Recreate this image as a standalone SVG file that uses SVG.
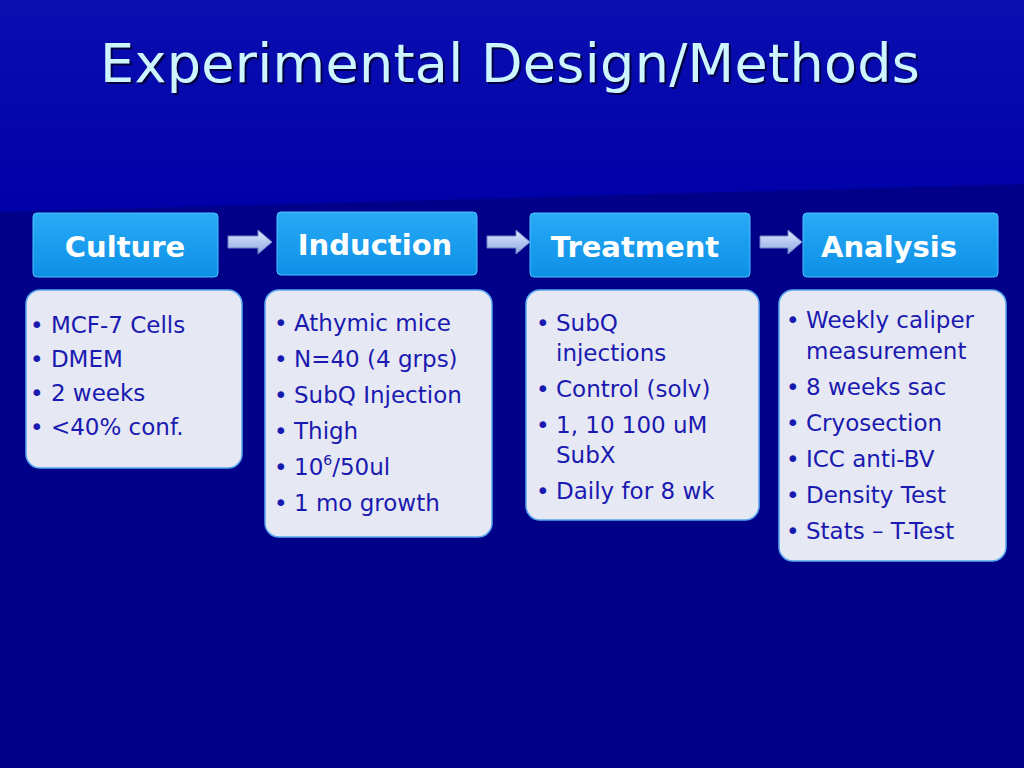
<svg xmlns="http://www.w3.org/2000/svg" width="1024" height="768" viewBox="0 0 1024 768">
<defs>
<linearGradient id="hd" x1="0" y1="0" x2="0" y2="1"><stop offset="0" stop-color="#29abf7"/><stop offset="1" stop-color="#0d8fe6"/></linearGradient>
<linearGradient id="ar" x1="0" y1="0" x2="0" y2="1"><stop offset="0" stop-color="#dfe9ff"/><stop offset="1" stop-color="#8fa6e0"/></linearGradient>
<linearGradient id="bg" x1="0" y1="0" x2="0" y2="1"><stop offset="0" stop-color="#0a0fb0"/><stop offset="1" stop-color="#0000a8"/></linearGradient>
</defs>
<style>
.hd{fill:url(#hd);stroke:#4fc0ff;stroke-width:1}
.ht{font-family:"DejaVu Sans",sans-serif;font-weight:bold;font-size:29px;fill:#fff}
.bx{fill:#e6e8f3;stroke:#5aa8f0;stroke-width:1.5}
.bt{font-family:"DejaVu Sans",sans-serif;font-size:23px;fill:#1a1ab0}
.ar{fill:url(#ar);stroke:#6b84c8;stroke-width:1}
</style>
<rect width="1024" height="768" fill="#000088"/>
<polygon points="0,0 1024,0 1024,184 0,212" fill="url(#bg)"/>
<text x="512" y="84" text-anchor="middle" font-family="DejaVu Sans,sans-serif" font-size="54" fill="#000040" textLength="820">Experimental Design/Methods</text>
<text x="510" y="82" text-anchor="middle" font-family="DejaVu Sans,sans-serif" font-size="54" fill="#ccf5ff" textLength="820">Experimental Design/Methods</text>
<g id="connectors">
<polygon class="ar" points="228,236 258,236 258,230 272,242 258,254 258,248 228,248"/>
<polygon class="ar" points="487,236 516,236 516,230 530,242 516,254 516,248 487,248"/>
<polygon class="ar" points="760,236 788,236 788,230 802,242 788,254 788,248 760,248"/>
</g>
<g id="culture">
<rect class="hd" x="33" y="213" width="185" height="64" rx="4"/>
<text class="ht" x="125" y="257" text-anchor="middle">Culture</text>
<rect class="bx" x="26" y="290" width="216" height="178" rx="14"/>
<text class="bt"><tspan x="30" y="333">• MCF-7 Cells</tspan><tspan x="30" y="367">• DMEM</tspan><tspan x="30" y="401">• 2 weeks</tspan><tspan x="30" y="435">• &lt;40% conf.</tspan></text>
</g>
<g id="induction">
<rect class="hd" x="277" y="212" width="200" height="63" rx="4"/>
<text class="ht" x="375" y="255" text-anchor="middle">Induction</text>
<rect class="bx" x="265" y="290" width="227" height="247" rx="14"/>
<text class="bt"><tspan x="274" y="331">•</tspan><tspan x="294" y="331">Athymic mice</tspan><tspan x="274" y="367">•</tspan><tspan x="294" y="367">N=40 (4 grps)</tspan><tspan x="274" y="403">•</tspan><tspan x="294" y="403">SubQ Injection</tspan><tspan x="274" y="439">•</tspan><tspan x="294" y="439">Thigh</tspan><tspan x="274" y="475">•</tspan><tspan x="294" y="475">10</tspan><tspan font-size="14" dy="-10">6</tspan><tspan dy="10">/50ul</tspan><tspan x="274" y="511">•</tspan><tspan x="294" y="511">1 mo growth</tspan></text>
</g>
<g id="treatment">
<rect class="hd" x="530" y="213" width="220" height="64" rx="4"/>
<text class="ht" x="635" y="257" text-anchor="middle">Treatment</text>
<rect class="bx" x="526" y="290" width="233" height="230" rx="14"/>
<text class="bt"><tspan x="536" y="331">•</tspan><tspan x="556" y="331">SubQ</tspan><tspan x="556" y="361">injections</tspan><tspan x="536" y="397">•</tspan><tspan x="556" y="397">Control (solv)</tspan><tspan x="536" y="433">•</tspan><tspan x="556" y="433">1, 10 100 uM</tspan><tspan x="556" y="463">SubX</tspan><tspan x="536" y="499">•</tspan><tspan x="556" y="499">Daily for 8 wk</tspan></text>
</g>
<g id="analysis">
<rect class="hd" x="803" y="213" width="195" height="64" rx="4"/>
<text class="ht" x="889" y="257" text-anchor="middle">Analysis</text>
<rect class="bx" x="779" y="290" width="227" height="271" rx="14"/>
<text class="bt"><tspan x="786" y="328">•</tspan><tspan x="806" y="328">Weekly caliper</tspan><tspan x="806" y="359">measurement</tspan><tspan x="786" y="395">•</tspan><tspan x="806" y="395">8 weeks sac</tspan><tspan x="786" y="431">•</tspan><tspan x="806" y="431">Cryosection</tspan><tspan x="786" y="467">•</tspan><tspan x="806" y="467">ICC anti-BV</tspan><tspan x="786" y="503">•</tspan><tspan x="806" y="503">Density Test</tspan><tspan x="786" y="539">•</tspan><tspan x="806" y="539">Stats – T-Test</tspan></text>
</g>
</svg>
